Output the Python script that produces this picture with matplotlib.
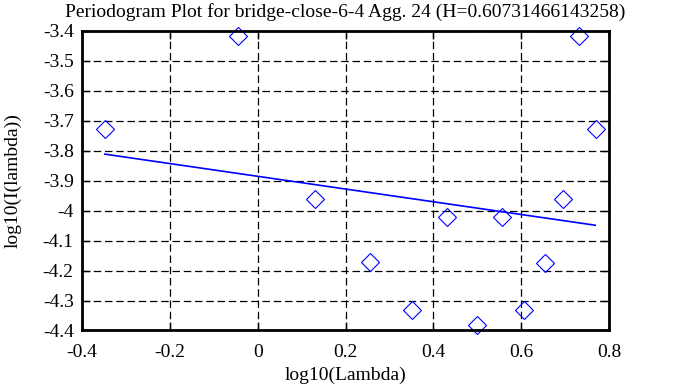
import numpy as np
import matplotlib
matplotlib.use("Agg")
import matplotlib.pyplot as plt

plt.rcParams['font.family'] = ['Liberation Serif', 'DejaVu Serif']

# periodogram points (log10 lambda, log10 I)
log_lambda = [-0.348, -0.046, 0.1305, 0.255, 0.351, 0.4305, 0.498, 0.5565, 0.607, 0.653, 0.695, 0.732, 0.771]
log_I = [-3.728, -3.417, -3.961, -4.173, -4.333, -4.021, -4.382, -4.021, -4.332, -4.174, -3.96, -3.417, -3.728]

# fitted line end points
fit_x = [-0.348, 0.768]
fit_y = [-3.812, -4.049]

title = "Periodogram Plot for bridge-close-6-4 Agg. 24 (H=0.60731466143258)"

fig = plt.figure(figsize=(6.83, 3.87), dpi=100)
ax = fig.add_axes([0.120, 0.146, 0.772, 0.775])

ax.plot(log_lambda, log_I, linestyle='none', marker='D', markersize=9,
        markerfacecolor='none', markeredgecolor='blue', markeredgewidth=0.8, clip_on=False)
ax.plot(fit_x, fit_y, color='blue', lw=1.2)

ax.set_xlim(-0.4, 0.8)
ax.set_ylim(-4.4, -3.4)
ax.set_xticks(np.arange(-0.4, 0.81, 0.2))
ax.set_xticklabels(['-0.4', '-0.2', '0', '0.2', '0.4', '0.6', '0.8'])
ax.set_yticks(np.arange(-4.4, -3.39, 0.1))
ax.set_yticklabels(['-4.4', '-4.3', '-4.2', '-4.1', '-4', '-3.9', '-3.8', '-3.7', '-3.6', '-3.5', '-3.4'])
ax.grid(True, color='black', linestyle=(0, (6, 3)), lw=0.9)
ax.tick_params(direction='in', length=6, width=1, top=True, right=True, labelsize=14)
ax.tick_params(axis='x', pad=10)
ax.tick_params(axis='y', pad=6)
for s in ax.spines.values():
    s.set_linewidth(2)

ax.set_xlabel('log10(Lambda)', fontsize=14, labelpad=4)
ax.set_ylabel('log10(I(lambda))', fontsize=14, labelpad=15)
ax.set_title(title, fontsize=14, pad=10)

fig.savefig('out.png', dpi=100)
